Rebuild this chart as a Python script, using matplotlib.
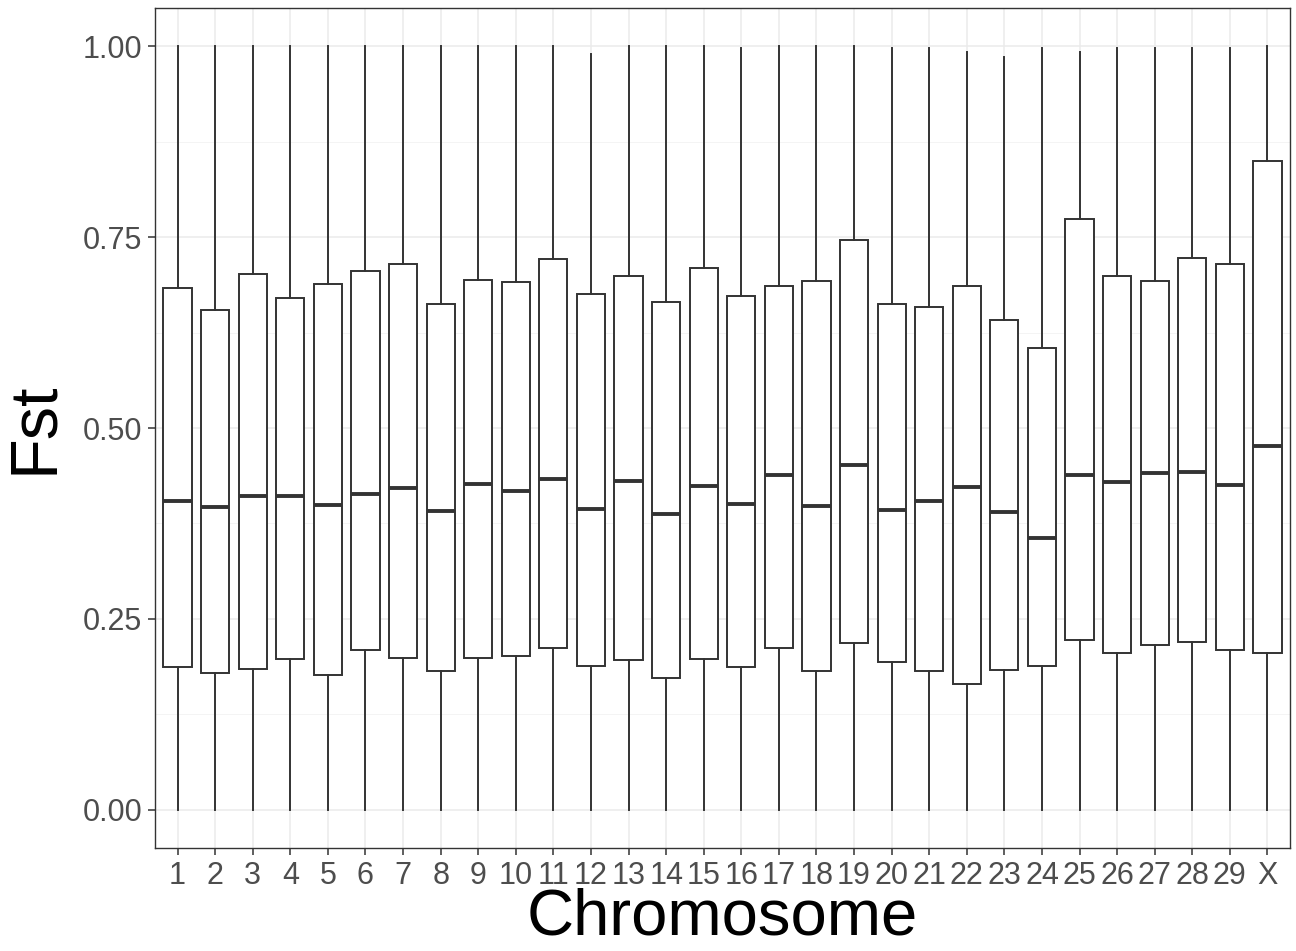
import matplotlib
matplotlib.use("Agg")
import matplotlib.pyplot as plt
import numpy as np

plt.rcParams['font.family'] = ['Liberation Sans', 'DejaVu Sans']

# Fst summary per chromosome
chromosomes = [str(i) for i in range(1, 30)] + ['X']
fst_min = [0.0] * 30
fst_q1 = [0.187, 0.179, 0.184, 0.197, 0.176, 0.209, 0.199, 0.182, 0.199, 0.202,
          0.212, 0.188, 0.196, 0.172, 0.197, 0.187, 0.212, 0.182, 0.218, 0.194,
          0.182, 0.165, 0.183, 0.188, 0.223, 0.205, 0.216, 0.220, 0.209, 0.206]
fst_median = [0.404, 0.397, 0.411, 0.411, 0.399, 0.414, 0.421, 0.391, 0.427, 0.417,
              0.433, 0.394, 0.431, 0.388, 0.424, 0.401, 0.438, 0.398, 0.452, 0.393,
              0.404, 0.423, 0.390, 0.356, 0.439, 0.429, 0.441, 0.442, 0.426, 0.476]
fst_q3 = [0.683, 0.654, 0.702, 0.670, 0.689, 0.705, 0.715, 0.662, 0.694, 0.691,
          0.721, 0.675, 0.699, 0.665, 0.710, 0.673, 0.686, 0.692, 0.746, 0.663,
          0.659, 0.686, 0.641, 0.605, 0.774, 0.699, 0.693, 0.722, 0.715, 0.849]
fst_max = [1.0, 1.0, 1.0, 1.0, 1.0, 1.0, 1.0, 1.0, 1.0, 1.0,
           1.0, 0.990, 1.0, 1.0, 1.0, 0.997, 1.0, 1.0, 1.0, 0.997,
           0.997, 0.993, 0.986, 0.997, 0.993, 0.997, 0.997, 0.997, 0.997, 1.0]

stats = []
for lab, lo, q1, med, q3, hi in zip(chromosomes, fst_min, fst_q1, fst_median, fst_q3, fst_max):
    stats.append(dict(label=lab, whislo=lo, q1=q1, med=med, q3=q3, whishi=hi, fliers=[]))

fig = plt.figure(figsize=(12.96, 9.51), dpi=100)
ax = fig.add_axes([155 / 1296, 1 - 848 / 951, (1290 - 155) / 1296, (848 - 8) / 951])

dark = '#333333'
positions = np.arange(1, len(chromosomes) + 1)

# grid (ggplot theme_bw look)
ax.set_axisbelow(True)
ax.set_yticks([0, 0.25, 0.5, 0.75, 1.0])
ax.set_yticks([0.125, 0.375, 0.625, 0.875], minor=True)
ax.grid(True, which='major', color='#EBEBEB', linewidth=1.1)
ax.grid(True, which='minor', axis='y', color='#F2F2F2', linewidth=0.6)

ax.bxp(stats, positions=positions, widths=0.75, showcaps=False, showfliers=False,
       patch_artist=True,
       boxprops=dict(facecolor='white', edgecolor=dark, linewidth=1.4),
       whiskerprops=dict(color=dark, linewidth=1.4),
       medianprops=dict(color=dark, linewidth=2.8, solid_capstyle='butt'))

ax.set_xlim(0.4, len(chromosomes) + 0.6)
ax.set_ylim(-0.05, 1.05)
ax.set_xticks(positions)
ax.set_xticklabels(chromosomes)
ax.set_yticklabels(['0.00', '0.25', '0.50', '0.75', '1.00'])
ax.tick_params(axis='both', which='major', labelsize=22, labelcolor='#4D4D4D',
               color=dark, length=5, width=1.1, pad=4)
ax.tick_params(axis='y', which='minor', length=0)

for sp in ax.spines.values():
    sp.set_color(dark)
    sp.set_linewidth(1.0)

ax.set_xlabel('Chromosome', fontsize=47, color='black', labelpad=-2)
ax.set_ylabel('Fst', fontsize=48, color='black', labelpad=12)

plt.savefig('out.png', dpi=100)
plt.close()
